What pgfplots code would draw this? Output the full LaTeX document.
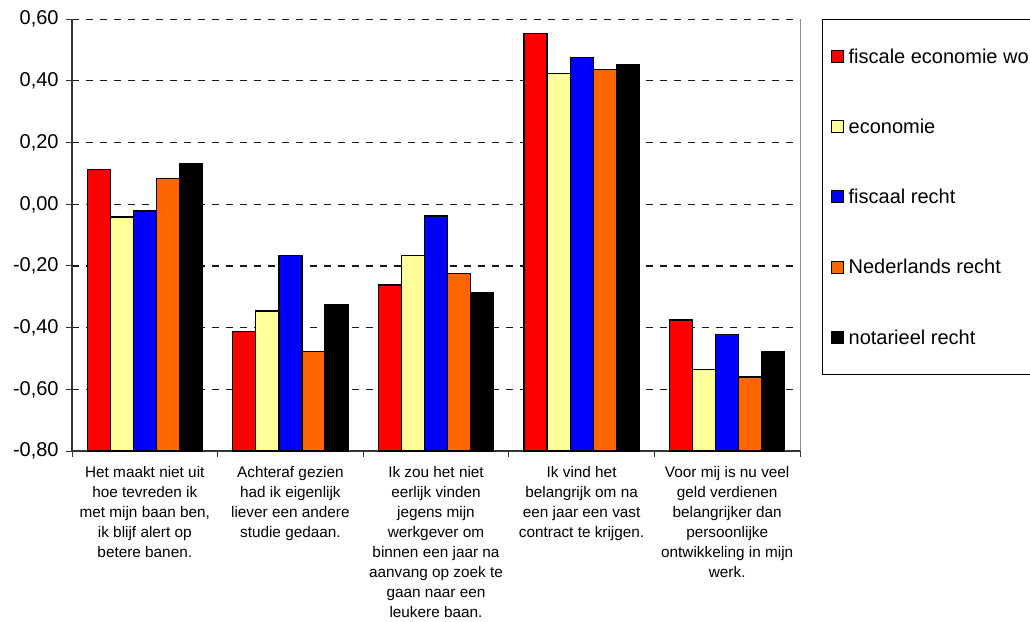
\documentclass[border=0pt]{standalone}
\usepackage{fontspec}
\setmainfont{Liberation Sans}
\usepackage{pgfplots}
\pgfplotsset{compat=1.18}
\definecolor{cRed}{HTML}{FF0000}
\definecolor{cYel}{HTML}{FFFF99}
\definecolor{cBlu}{HTML}{0000FF}
\definecolor{cOra}{HTML}{FF6600}
\definecolor{cBlk}{HTML}{000000}
\begin{document}
\begin{tikzpicture}
\begin{axis}[
  scale only axis,
  width=546pt, height=323.8pt,
  xmin=-0.5, xmax=4.5,
  ymin=-0.8, ymax=0.6,
  y coord trafo/.code={\pgfmathparse{#1+0.8}},
  y coord inv trafo/.code={\pgfmathparse{#1-0.8}},
  ybar=0pt, bar width=0.158,
  clip=false,
  axis x line=bottom, axis y line=left,
  axis line style={-, line width=1pt, black!80},
  tick align=outside,
  major tick length=4.5pt, minor tick length=4.5pt,
  tick style={black!80, line width=0.75pt},
  major x tick style={draw=none},
  xtick={0,1,2,3,4},
  minor xtick={-0.5,0.5,1.5,2.5,3.5,4.5},
  xticklabels={
    {Het maakt niet uit\\hoe tevreden ik\\met mijn baan ben,\\ik blijf alert op\\betere banen.},
    {Achteraf gezien\\had ik eigenlijk\\liever een andere\\studie gedaan.},
    {Ik zou het niet\\eerlijk vinden\\jegens mijn\\werkgever om\\binnen een jaar na\\aanvang op zoek te\\gaan naar een\\leukere baan.},
    {Ik vind het\\belangrijk om na\\een jaar een vast\\contract te krijgen.},
    {Voor mij is nu veel\\geld verdienen\\belangrijker dan\\persoonlijke\\ontwikkeling in mijn\\werk.}},
  xticklabel style={align=center, anchor=north, font=\fontsize{11.5}{15}\selectfont, yshift=-3.5pt},
  ytick={-0.8,-0.6,-0.4,-0.2,0,0.2,0.4,0.6},
  yticklabels={{-0,80},{-0,60},{-0,40},{-0,20},{0,00},{0,20},{0,40},{0,60}},
  yticklabel style={font=\fontsize{15}{18}\selectfont, xshift=-2pt},
  /pgf/number format/assume math mode=true,
  ymajorgrids,
  major grid style={black!90, dash pattern=on 5.5pt off 5pt, line width=0.8pt},
  every axis plot/.append style={draw=black, line width=0.9pt},
  legend image code/.code={\draw[#1, draw=black, line width=0.6pt] (0pt,-4.5pt) rectangle (9pt,4.5pt);},
  legend cell align=left,
  legend style={at={(rel axis cs:1.0306,1.0015)}, anchor=north west,
    draw=black, line width=0.75pt, inner xsep=6.3pt, inner ysep=22pt,
    row sep=41.2pt, column sep=3.5pt,
    font=\fontsize{15}{18}\selectfont,
    nodes={inner sep=0pt, text height=11pt, text depth=0.5pt}},
]
\addplot[fill=cRed] coordinates {(0,0.112) (1,-0.413) (2,-0.262) (3,0.553) (4,-0.375)};
\addplot[fill=cYel] coordinates {(0,-0.041) (1,-0.346) (2,-0.165) (3,0.424) (4,-0.535)};
\addplot[fill=cBlu] coordinates {(0,-0.022) (1,-0.167) (2,-0.038) (3,0.475) (4,-0.422)};
\addplot[fill=cOra] coordinates {(0,0.083) (1,-0.478) (2,-0.224) (3,0.436) (4,-0.560)};
\addplot[fill=cBlk] coordinates {(0,0.132) (1,-0.325) (2,-0.285) (3,0.453) (4,-0.477)};
\addlegendentry{\makebox[8cm][l]{fiscale economie wo}}
\addlegendentry{economie}
\addlegendentry{fiscaal recht}
\addlegendentry{Nederlands recht}
\addlegendentry{notarieel recht}
\draw[black!45, line width=0.75pt] (rel axis cs:1,0) -- (rel axis cs:1,1);
\end{axis}
\pgfresetboundingbox
\useasboundingbox (-54pt,-127.5pt) rectangle (718.5pt,338.25pt);
\end{tikzpicture}
\end{document}
